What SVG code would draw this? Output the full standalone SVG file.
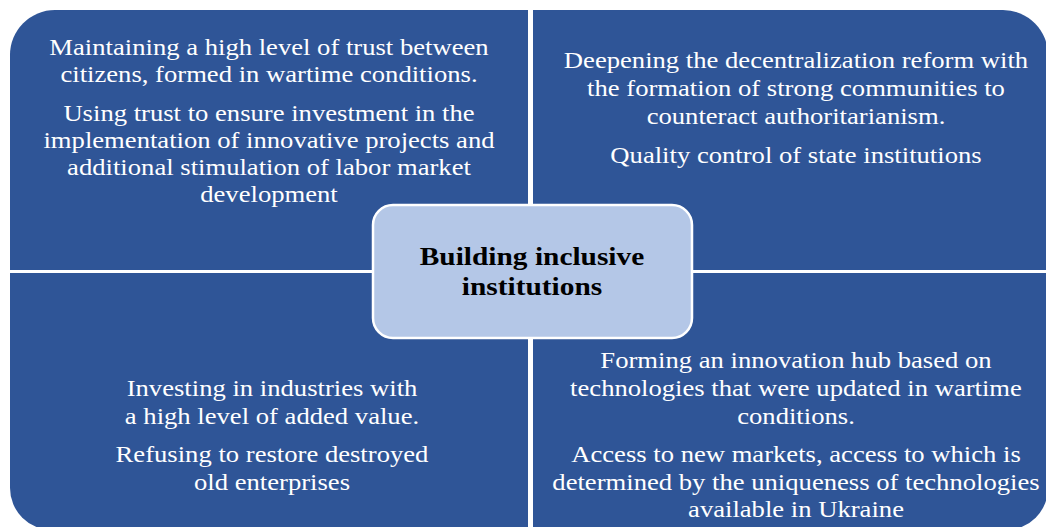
<svg xmlns="http://www.w3.org/2000/svg" width="1046" height="527" viewBox="0 0 1046 527">
<style>
.q{fill:#2F5597;}
.t{font-family:"Liberation Serif","Times New Roman",serif;font-size:24px;fill:#FFFFFF;text-anchor:middle;}
.c{font-family:"Liberation Serif","Times New Roman",serif;font-size:26px;font-weight:bold;fill:#000000;text-anchor:middle;}
</style>
<rect width="1046" height="527" fill="#FFFFFF"/>
<g id="q-top-left">
<path class="q" d="M10,55 A45,45 0 0 1 55,10 L528,10 L528,270 L10,270 Z"/>
<text class="t" transform="translate(269,0) scale(1.11,1)"><tspan x="0" y="55">Maintaining a high level of trust between</tspan><tspan x="0" y="82">citizens, formed in wartime conditions.</tspan><tspan x="0" y="121">Using trust to ensure investment in the</tspan><tspan x="0" y="148">implementation of innovative projects and</tspan><tspan x="0" y="175">additional stimulation of labor market</tspan><tspan x="0" y="202">development</tspan></text>
</g>
<g id="q-top-right">
<path class="q" d="M533,10 L1003,10 A45,45 0 0 1 1048,55 L1048,270 L533,270 Z"/>
<text class="t" transform="translate(796,0) scale(1.11,1)"><tspan x="0" y="68">Deepening the decentralization reform with</tspan><tspan x="0" y="96">the formation of strong communities to</tspan><tspan x="0" y="124">counteract authoritarianism.</tspan><tspan x="0" y="163">Quality control of state institutions</tspan></text>
</g>
<g id="q-bottom-left">
<path class="q" d="M10,273 L528,273 L528,530 L52,530 A42,42 0 0 1 10,488 Z"/>
<text class="t" transform="translate(272,0) scale(1.11,1)"><tspan x="0" y="396">Investing in industries with</tspan><tspan x="0" y="424">a high level of added value.</tspan><tspan x="0" y="462">Refusing to restore destroyed</tspan><tspan x="0" y="490">old enterprises</tspan></text>
</g>
<g id="q-bottom-right">
<path class="q" d="M533,273 L1048,273 L1048,488 A42,42 0 0 1 1006,530 L533,530 Z"/>
<text class="t" transform="translate(796,0) scale(1.11,1)"><tspan x="0" y="368">Forming an innovation hub based on</tspan><tspan x="0" y="396">technologies that were updated in wartime</tspan><tspan x="0" y="424">conditions.</tspan><tspan x="0" y="462">Access to new markets, access to which is</tspan><tspan x="0" y="490">determined by the uniqueness of technologies</tspan><tspan x="0" y="517">available in Ukraine</tspan></text>
</g>
<g id="connectors"></g>
<g id="center">
<rect x="373" y="205" width="319" height="133" rx="20" ry="20" fill="#B4C7E7" stroke="#FFFFFF" stroke-width="2.5"/>
<text class="c" transform="translate(532,0) scale(1.13,1)"><tspan x="0" y="265">Building inclusive</tspan><tspan x="0" y="295">institutions</tspan></text>
</g>
</svg>
